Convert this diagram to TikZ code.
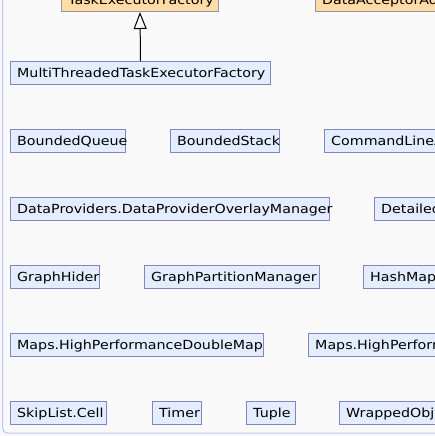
\documentclass[tikz,border=0pt]{standalone}
\usepackage{fontspec}
\setmainfont{DejaVu Sans}
\newfontfamily\umlfont[FakeStretch=1.14]{DejaVu Sans}
\usetikzlibrary{arrows.meta}
\definecolor{bgc}{HTML}{F9F9F9}
\definecolor{boxfill}{HTML}{E4EDFD}
\definecolor{boxline}{HTML}{8585BD}
\definecolor{orfill}{HTML}{FFDBA6}
\definecolor{orline}{HTML}{9A90A8}
\definecolor{framec}{HTML}{B6C6F6}
\tikzset{
  cls/.style={draw=boxline, fill=boxfill, line width=1pt, minimum height=23pt, inner sep=0pt, anchor=north west},
  ifc/.style={draw=orline, fill=orfill, line width=1pt, minimum height=23pt, inner sep=0pt, anchor=north west},
  txt/.style={anchor=base west, inner sep=0pt, font=\umlfont\fontsize{12.5}{14}\selectfont, text=black},
  inh/.style={line width=1pt, -{Triangle[open, length=17pt, width=13pt]}}
}
\newcommand{\clsbox}[5]{%
  \node[#5, minimum width=#3 pt] (#1) at (#2) {};
  \node[txt] (#1t) at ([xshift=7pt, yshift=-16.3pt]#1.north west) {#4};
}
\begin{document}
\begin{tikzpicture}[x=1pt, y=-1pt]
\useasboundingbox (0,0) rectangle (435,436);
\clip (0,0) rectangle (435,436);
\fill[bgc] (0,0) rectangle (435,436);
\draw[framec, line width=1pt, rounded corners=5pt] (2.5,-30) -- (2.5,433) -- (470,433);
% top interfaces
\clsbox{task}{61,-12}{157}{TaskExecutorFactory}{ifc}
\clsbox{dacc}{315,-12}{200}{DataAcceptorAdapter}{ifc}
% rows
\clsbox{multi}{10,61}{260}{MultiThreadedTaskExecutorFactory}{cls}
\clsbox{bq}{10,129}{115}{BoundedQueue}{cls}
\clsbox{bs}{170,129}{109}{BoundedStack}{cls}
\clsbox{cl}{324,129}{200}{CommandLineArgs}{cls}
\clsbox{dp}{10,197}{319}{DataProviders.DataProviderOverlayManager}{cls}
\clsbox{det}{374,197}{200}{DetailedView}{cls}
\clsbox{gh}{10,265}{89}{GraphHider}{cls}
\clsbox{gp}{144,265}{175}{GraphPartitionManager}{cls}
\clsbox{hm}{363,265}{200}{HashMap}{cls}
\clsbox{mp}{10,333}{253}{Maps.HighPerformanceDoubleMap}{cls}
\clsbox{mp2}{308,333}{250}{Maps.HighPerformanceIntMap}{cls}
\clsbox{sk}{10,401}{96}{SkipList.Cell}{cls}
\clsbox{ti}{152,401}{49}{Timer}{cls}
\clsbox{tu}{246,401}{49}{Tuple}{cls}
\clsbox{wo}{339,401}{200}{WrappedObject}{cls}
\draw[inh] (multi.north) -- (task.south);
\end{tikzpicture}
\end{document}
